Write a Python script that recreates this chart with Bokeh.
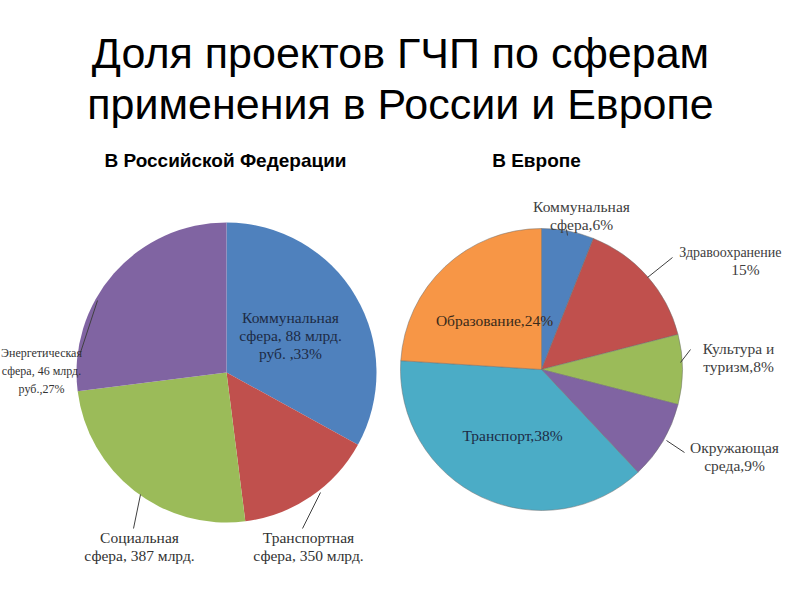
import numpy as np
from bokeh.plotting import figure
from bokeh.models import Range1d
from bokeh.core.properties import value
from bokeh.embed import file_html
from bokeh.resources import INLINE

# ---------------- data ----------------
title_lines = ["Доля проектов ГЧП по сферам", "применения в России и Европе"]
sub_ru = "В Российской Федерации"
sub_eu = "В Европе"

ru_categories = ["Коммунальная сфера", "Транспортная сфера", "Социальная сфера", "Энергетическая сфера"]
ru_values = [33, 15, 25, 27]
ru_labels = [
    ["Коммунальная", "сфера, 88 млрд.", "руб. ,33%"],
    ["Транспортная", "сфера, 350 млрд."],
    ["Социальная", "сфера, 387 млрд."],
    ["Энергетическая", "сфера, 46 млрд.", "руб.,27%"],
]

eu_categories = ["Коммунальная сфера", "Здравоохранение", "Культура и туризм",
                 "Окружающая среда", "Транспорт", "Образование"]
eu_values = [6, 15, 8, 9, 38, 24]
eu_labels = [
    ["Коммунальная", "сфера,6%"],
    ["Здравоохранение"],
    ["15%"],
    ["Культура и", "туризм,8%"],
    ["Окружающая", "среда,9%"],
    ["Транспорт,38%"],
    ["Образование,24%"],
]

# ---------------- styles / layout ----------------
ru_colors = ["#4F81BD", "#C0504D", "#9BBB59", "#8064A2"]
eu_colors = ["#4F81BD", "#C0504D", "#9BBB59", "#8064A2", "#4BACC6", "#F79646"]

W, H = 784, 584
def Y(py):
    return 600 - py

p = figure(width=W, height=H, output_backend="svg", toolbar_location=None,
           x_range=Range1d(0, W), y_range=Range1d(600 - H, 600),
           min_border=0)
p.axis.visible = False
p.grid.visible = False
p.outline_line_color = None
p.background_fill_color = "white"
p.border_fill_color = "white"

def pie(cx, cy, r, vals, colors, line_color, line_alpha):
    v = np.array(vals, dtype=float)
    frac = v / v.sum()
    cum_end = np.cumsum(frac)
    cum_start = cum_end - frac
    start = np.pi / 2 - cum_end * 2 * np.pi
    end = np.pi / 2 - cum_start * 2 * np.pi
    p.wedge(x=[cx] * len(v), y=[cy] * len(v), radius=r,
            start_angle=list(start), end_angle=list(end),
            fill_color=colors, line_color=line_color, line_alpha=line_alpha,
            line_width=1, direction="anticlock")

pie(226, Y(372), 150, ru_values, ru_colors, "#ffffff", 0.0)
pie(541, Y(369), 141, eu_values, eu_colors, "#6f6f6f", 0.5)

# leader lines (layout)
leaders = [
    ((80, 352), (97, 300)),
    ((133, 528), (140, 494)),
    ((302, 528), (320, 492)),
    ((566, 229), (567, 235)),
    ((672, 257), (647, 277)),
    ((680, 362), (690, 349)),
    ((666, 440), (684, 452)),
]
p.segment(x0=[a[0] for a, b in leaders], y0=[Y(a[1]) for a, b in leaders],
          x1=[b[0] for a, b in leaders], y1=[Y(b[1]) for a, b in leaders],
          line_color="#404040", line_width=1)

serif = value("Liberation Serif")
sans = value("Liberation Sans")
LS = 18

def label(lines, cx, cy_first, color, size="15.5px", align="center"):
    ys = [Y(cy_first + i * LS) for i in range(len(lines))]
    p.text(x=[cx] * len(lines), y=ys, text=lines, text_font=serif,
           text_font_size=size, text_color=color, text_align=align,
           text_baseline="middle")

# Russia labels
label(ru_labels[0], 290, 317, "#1d2b45")
label(ru_labels[1], 308, 537, "#333333")
label(ru_labels[2], 139, 537, "#333333")
label(ru_labels[3], 41, 352, "#333333", size="12px")

# Europe labels
label(eu_labels[0], 581, 206, "#404040")
label(eu_labels[1], 781, 252, "#404040", size="14px", align="right")
label(eu_labels[2], 745, 269, "#404040")
label(eu_labels[3], 738, 348, "#404040")
label(eu_labels[4], 734, 447, "#404040")
label(eu_labels[5], 512, 435, "#1d2b45")
label(eu_labels[6], 494, 320, "#3a2a1a")

# titles
p.text(x=[400, 400], y=[Y(52), Y(103)], text=title_lines, text_font=sans,
       text_font_size="43px", text_color="#000000", text_align="center",
       text_baseline="middle")
p.text(x=[225, 536], y=[Y(160), Y(160)], text=[sub_ru, sub_eu], text_font=sans,
       text_font_size="19px", text_font_style="bold", text_color="#000000",
       text_align="center", text_baseline="middle")

open("out.html", "w").write(file_html(p, INLINE))
